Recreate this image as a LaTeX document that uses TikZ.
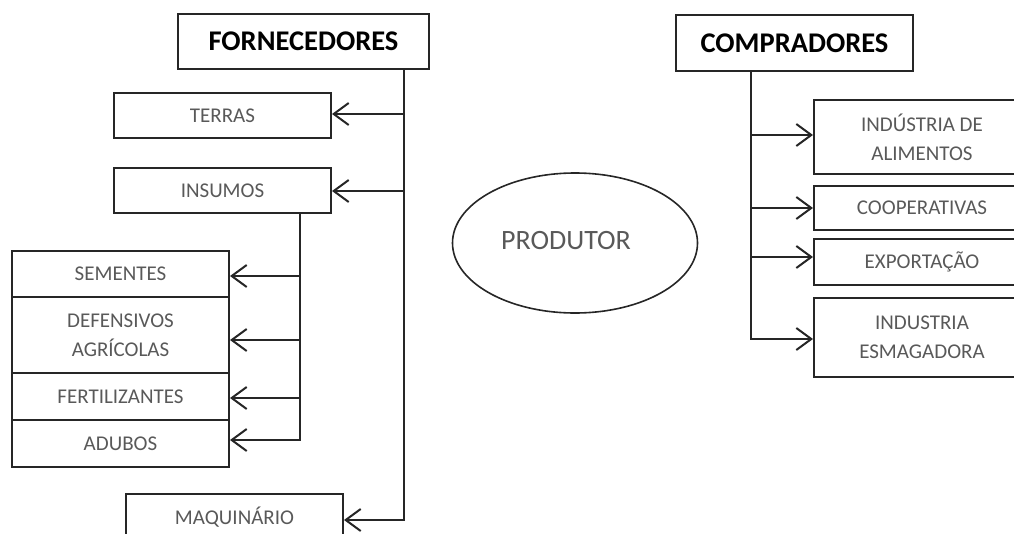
\documentclass[tikz,border=0pt]{standalone}
\usepackage{fontspec}
\setmainfont{Carlito}
\usetikzlibrary{arrows.meta,shapes.geometric}
\definecolor{ink}{HTML}{262626}
\definecolor{txt}{HTML}{595959}
\tikzset{
  x=1pt, y=1pt,
  box/.style={draw=ink, line width=2pt, inner sep=0pt, align=center,
    text=txt, font=\fontsize{21}{29}\selectfont, minimum width=217pt},
  head/.style={draw=ink, line width=2pt, inner sep=0pt, align=center,
    text=black, font=\fontsize{28.5}{32}\selectfont\bfseries},
  link/.style={draw=ink, line width=2.2pt},
  arr/.style={draw=ink, line width=2.2pt,
    -{Straight Barb[length=15pt,width=22pt,line width=2pt]}},
}
\begin{document}
\begin{tikzpicture}
\useasboundingbox (0,0) rectangle (1014,-533);
\clip (0,0) rectangle (1014,-533);

% suppliers side
\node[head, minimum width=251pt, minimum height=55pt] (forn) at (303.5,-41.5) {FORNECEDORES};
\node[box, minimum height=45pt] (terras) at (222.5,-115.5) {TERRAS};
\node[box, minimum height=45pt] (insumos) at (222.5,-190.5) {INSUMOS};
\node[box, minimum height=46pt] (sem) at (120.5,-274) {SEMENTES};
\node[box, minimum height=76pt] (def) at (120.5,-335) {DEFENSIVOS\\AGRÍCOLAS};
\node[box, minimum height=47pt] (fert) at (120.5,-396.5) {FERTILIZANTES};
\node[box, minimum height=47pt] (adub) at (120.5,-443.5) {ADUBOS};
\node[box, minimum height=46pt] (maq) at (234.5,-517) {MAQUINÁRIO};

% main supplier trunk
\coordinate (fx) at (404,0);
\coordinate (fterr) at (404,-114);
\coordinate (fins) at (404,-191);
\coordinate (fmaq) at (404,-520);
\draw[link] (forn.south -| fx) -- (fterr);
\draw[arr] (fterr) -- (fterr -| terras.east);
\draw[arr] (fins) -- (fins -| insumos.east);
\draw[arr, line join=miter] (fterr) -- (fmaq) -- (fmaq -| maq.east);

% inputs trunk
\coordinate (ix) at (300,0);
\coordinate (isem) at (300,-276);
\coordinate (idef) at (300,-340);
\coordinate (ifert) at (300,-398);
\coordinate (iadub) at (300,-440);
\draw[link] (insumos.south -| ix) -- (isem);
\draw[arr] (isem) -- (isem -| sem.east);
\draw[arr] (idef) -- (idef -| def.east);
\draw[arr] (ifert) -- (ifert -| fert.east);
\draw[arr, line join=miter] (isem) -- (iadub) -- (iadub -| adub.east);

% producer
\node[draw=ink, line width=1.6pt, ellipse, minimum width=245pt, minimum height=140pt,
      inner sep=0pt] (prod) at (575,-243) {};
\node[text=txt, font=\fontsize{28}{32}\selectfont, inner sep=0pt] (prodtxt) at (566,-241) {PRODUTOR};

% buyers side
\node[head, minimum width=237pt, minimum height=56pt] (comp) at (794.5,-43) {COMPRADORES};
\node[box, minimum width=216pt, minimum height=74pt] (alim) at (922,-137) {INDÚSTRIA DE\\ALIMENTOS};
\node[box, minimum width=216pt, minimum height=44pt] (coop) at (922,-208) {COOPERATIVAS};
\node[box, minimum width=216pt, minimum height=46pt] (exp) at (922,-262) {EXPORTAÇÃO};
\node[box, minimum width=216pt, minimum height=79pt] (esm) at (922,-337.5) {INDUSTRIA\\ESMAGADORA};

\coordinate (cx) at (751,0);
\coordinate (calim) at (751,-135);
\coordinate (ccoop) at (751,-208);
\coordinate (cexp) at (751,-257);
\coordinate (cesm) at (751,-339);
\draw[link] (comp.south -| cx) -- (calim);
\draw[arr] (calim) -- (calim -| alim.west);
\draw[arr] (ccoop) -- (ccoop -| coop.west);
\draw[arr] (cexp) -- (cexp -| exp.west);
\draw[arr, line join=miter] (calim) -- (cesm) -- (cesm -| esm.west);
\end{tikzpicture}
\end{document}
